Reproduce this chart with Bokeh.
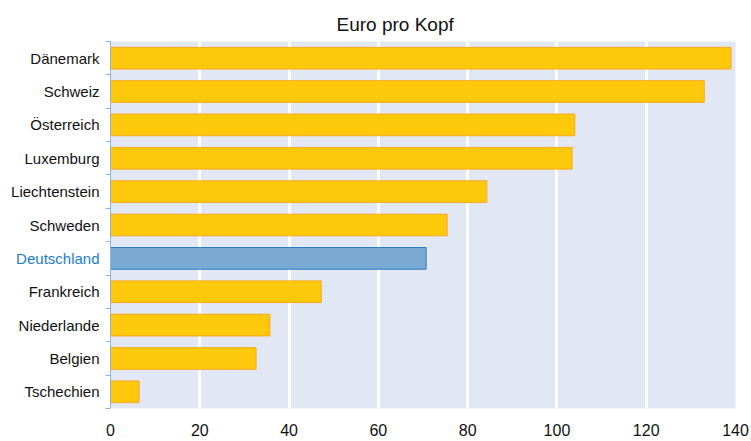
from bokeh.plotting import figure
from bokeh.layouts import row
from bokeh.models import FixedTicker, Range1d, ColumnDataSource
from bokeh.core.properties import value
from bokeh.embed import file_html
from bokeh.resources import INLINE

countries = ["Dänemark", "Schweiz", "Österreich", "Luxemburg", "Liechtenstein",
             "Schweden", "Deutschland", "Frankreich", "Niederlande", "Belgien", "Tschechien"]
values = [139.0, 133.0, 104.0, 103.4, 84.3, 75.4, 70.7, 47.2, 35.7, 32.6, 6.4]
x_ticks = [0, 20, 40, 60, 80, 100, 120, 140]
highlight = "Deutschland"
title_text = "Euro pro Kopf"

YELLOW, YELLOW_LINE = "#FFC90B", "#F7A81E"
BLUE, BLUE_LINE = "#7AAAD4", "#2B7BC1"
LABEL_BLUE = "#1C7CC9"
TEXT = "#111111"
FONT = "Liberation Sans"

n = len(countries)
ypos = [n - 1 - i for i in range(n)]
fills = [BLUE if c == highlight else YELLOW for c in countries]
lines = [BLUE_LINE if c == highlight else YELLOW_LINE for c in countries]
tcols = [LABEL_BLUE if c == highlight else TEXT for c in countries]
src = ColumnDataSource(dict(y=ypos, v=values, fill=fills, line=lines, name=countries,
                            tcol=tcols, tx=[99] * n))

LABEL_W = 100
yr = Range1d(-0.5, n - 0.5)

# label column
lab = figure(width=LABEL_W, height=441, output_backend="svg", toolbar_location=None,
             x_range=Range1d(0, LABEL_W), y_range=yr,
             min_border_left=0, min_border_right=0, min_border_top=41, min_border_bottom=33)
lab.text(x="tx", y="y", text="name", text_color="tcol", text_align="right",
         text_baseline="middle", text_font=value(FONT), text_font_size="15px", source=src)
lab.axis.visible = False
lab.grid.visible = False
lab.outline_line_color = None
lab.background_fill_color = "white"
lab.border_fill_color = "white"

p = figure(width=751 - LABEL_W, height=441, output_backend="svg", toolbar_location=None,
           x_range=Range1d(0, 140), y_range=yr,
           min_border_left=10, min_border_right=16, min_border_top=41, min_border_bottom=33)
p.hbar(y="y", right="v", left=0, height=0.65, fill_color="fill", line_color="line",
       line_width=1, source=src)

p.background_fill_color = "#E1E8F4"
p.border_fill_color = "white"
p.outline_line_color = None

p.title.text = title_text
p.title.align = "left"
p.title.offset = 226
p.title.text_font = FONT
p.title.text_font_size = "19px"
p.title.text_font_style = "normal"
p.title.text_color = TEXT
p.title.standoff = 14

p.xgrid.ticker = FixedTicker(ticks=[t for t in x_ticks if t > 0])
p.xgrid.grid_line_color = "white"
p.xgrid.grid_line_width = 3
p.ygrid.visible = False

xa = p.xaxis[0]
xa.ticker = FixedTicker(ticks=x_ticks)
xa.axis_line_color = None
xa.major_tick_line_color = None
xa.minor_tick_line_color = None
xa.major_tick_out = 0
xa.major_tick_in = 0
xa.major_label_text_font = FONT
xa.major_label_text_font_size = "16px"
xa.major_label_text_color = TEXT
xa.major_label_standoff = 15

ya = p.yaxis[0]
ya.ticker = FixedTicker(ticks=ypos, minor_ticks=[k - 0.5 for k in range(n + 1)])
ya.major_label_overrides = {y: "" for y in ypos}
ya.major_label_standoff = 0
ya.axis_line_color = "#8FB3E0"
ya.major_tick_line_color = None
ya.major_tick_out = 0
ya.major_tick_in = 0
ya.minor_tick_line_color = "#8FB3E0"
ya.minor_tick_out = 5
ya.minor_tick_in = 0

layout = row(lab, p)
open("out.html", "w").write(file_html(layout, INLINE))
